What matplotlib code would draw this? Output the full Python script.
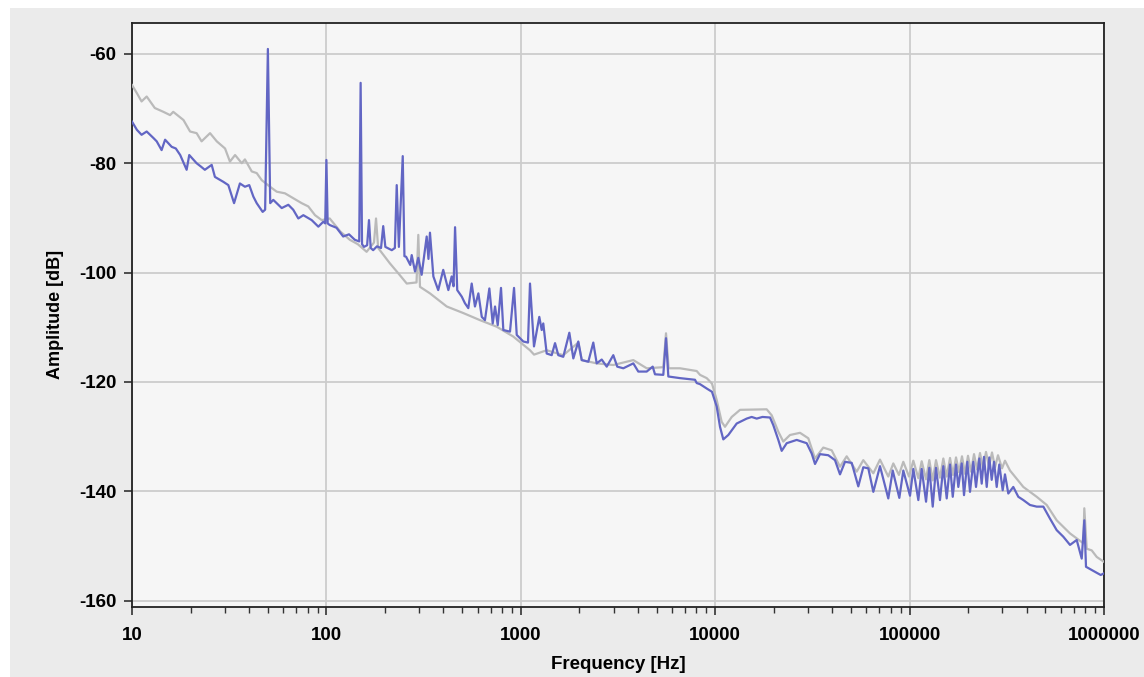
import matplotlib
matplotlib.use("Agg")
from matplotlib import pyplot as plt
from matplotlib.patches import Rectangle
from matplotlib.ticker import FixedLocator, LogLocator, NullFormatter

# spectrum, channel A (blue) : frequency [Hz], amplitude [dB]
freq_a = [10, 10.6, 11.2, 11.9, 12.9, 13.4, 14.2, 14.8, 16.0, 16.8, 17.7, 19.1, 19.7,
          21.5, 22.6, 23.7, 25.7, 26.7, 29.5, 31.3, 33.5, 35.9, 38.1, 40.1, 42.1, 43.8,
          47.0, 48.4, 50.0, 51.4, 53.3, 58.9, 63.7, 67.5, 71.7, 76.1, 84.0, 90.9, 96.4,
          98.6, 100, 101.5, 104, 112.7, 122, 130.7, 140, 147.5, 150, 152.5, 156, 162,
          165.6, 169, 174, 182, 191, 196, 201, 217, 225, 230, 236, 247, 252, 257, 270,
          274.7, 285.6, 297, 309, 328, 335, 341, 355, 376, 399, 424, 441, 451, 459, 471,
          497, 516, 537, 559, 581, 605, 630, 654, 689, 717, 737, 761, 791, 813, 880, 923,
          953, 1030, 1089, 1115, 1169, 1245, 1281, 1305, 1359, 1442, 1500, 1559, 1654,
          1777, 1863, 1976, 2058, 2225, 2360, 2457, 2608, 2767, 2991, 3135, 3368, 3791,
          4022, 4443, 4770, 4901, 5408, 5584, 5740, 6592, 7872, 8033, 8353, 9045, 9627,
          10180, 10586, 11007, 11680, 12900, 14520, 15400, 16350, 17500, 19140, 19900,
          21120, 21980, 23330, 26260, 29560, 31370, 32620, 34600, 38170, 41330, 43850,
          46530, 50380, 54460, 57780, 61330, 65070, 70420, 77690, 81880, 88540, 92820,
          100480, 104500, 110900, 115400, 121500, 126300, 131500, 136700, 143300,
          149100, 155200, 161400, 166700, 173300, 178100, 185400, 190500, 198100,
          204500, 212700, 219600, 228300, 234900, 241400, 249300, 257000, 264400,
          271800, 280600, 289300, 301200, 309500, 321900, 341500, 362400, 384600,
          416200, 450600, 487400, 527600, 571000, 617500, 668600, 723800, 768000,
          792000, 808000, 864700, 917400, 961700, 1000000]
amp_a = [-72.4, -73.9, -74.8, -74.2, -75.4, -76.0, -77.6, -75.7, -77.0, -77.3, -78.5, -81.2, -78.5,
         -80.0, -80.6, -81.2, -80.3, -82.5, -83.4, -84.0, -87.3, -83.7, -84.3, -84.0, -86.1, -87.3,
         -88.9, -88.5, -59.1, -87.3, -86.7, -88.2, -87.6, -88.5, -90.1, -89.5, -90.4, -91.6, -90.7,
         -91.0, -79.4, -91.0, -91.3, -91.8, -93.4, -93.0, -94.0, -94.3, -65.3, -94.8, -95.3, -95.0,
         -90.4, -95.5, -95.9, -95.2, -95.5, -91.5, -95.3, -95.9, -95.5, -84.0, -95.3, -78.7, -97.0, -97.1, -98.6,
         -96.8, -99.8, -97.3, -100.4, -93.4, -97.5, -92.7, -100.7, -103.2, -99.5, -103.2, -100.7, -102.5, -91.7, -103.2,
         -104.4, -105.6, -106.5, -102.0, -106.2, -103.8, -108.1, -108.7, -102.9, -109.3, -106.2, -109.6, -102.8, -110.5, -110.8, -102.8,
         -111.4, -112.6, -112.8, -102.0, -113.5, -108.1, -110.5, -109.3, -114.8, -115.1, -112.9, -115.1, -115.4,
         -111.0, -115.7, -112.6, -116.0, -116.3, -112.8, -116.6, -115.9, -117.2, -115.1, -117.2, -117.5, -116.6,
         -118.1, -118.1, -117.2, -118.6, -118.7, -112.0, -119.0, -119.3, -119.6, -120.2, -120.4, -121.2, -121.8,
         -124.5, -128.2, -130.5, -129.7, -127.6, -126.7, -126.4, -126.7, -126.4, -126.5, -127.9,
         -130.6, -132.6, -131.2, -130.6, -131.2, -133.1, -135.0, -133.2, -133.4, -134.3, -136.9,
         -134.6, -134.8, -139.1, -135.6, -135.8, -140.1, -135.4, -141.3, -136.2, -141.2, -136.2,
         -140.8, -135.9, -141.6, -135.9, -141.9, -135.7, -142.8, -135.7, -141.6,
         -135.4, -141.3, -135.1, -141.0, -135.1, -139.2, -134.9, -140.7, -134.6,
         -140.1, -134.6, -139.2, -134.0, -138.6, -133.7, -139.2, -133.8, -137.9,
         -134.6, -139.2, -135.1, -139.8, -136.9, -140.4, -139.2, -141.0, -141.6,
         -142.5, -142.8, -142.8, -145.0, -147.1, -148.3, -149.8, -148.9, -152.3,
         -145.3, -153.8, -154.4, -154.9, -155.3, -155.0]

# spectrum, channel B (gray)
freq_b = [10, 10.6, 11.2, 11.9, 13.1, 14.5, 15.7, 16.3, 18.4, 19.9, 21.5, 22.8, 25.2, 27.3,
          30.1, 31.9, 33.9, 36.7, 38.1, 41.3, 43.8, 46.5, 51.3, 55.5, 61.2, 67.5, 74.6, 80.7,
          87.4, 94.6, 104, 118, 132, 145, 161, 175.7, 180, 184.6, 212, 234, 259, 290.8, 297,
          303, 341, 416, 506, 617, 752, 915, 1115, 1170, 1359, 1654, 1976, 2058, 2457, 2991,
          3791, 4443, 5408, 5584, 5760, 6592, 7716, 8033, 8353, 9045, 9627, 10180, 10800,
          11230, 12160, 13420, 18400, 19530, 21120, 22400, 24250, 27310, 30130, 32620,
          35980, 39750, 43850, 47470, 53450, 57780, 65070, 70420, 77690, 82450, 88130,
          92820, 99290, 104500, 110900, 115400, 121500, 126300, 131500, 136700, 143300,
          149100, 155200, 161400, 167200, 173300, 179600, 186000, 192800, 199700, 206900,
          214500, 222200, 230200, 238600, 247200, 256100, 265400, 275000, 284900, 298800,
          309500, 328500, 384600, 450600, 507400, 571000, 668600, 782600, 792000, 814700,
          864700, 917400, 1000000]
amp_b = [-65.7, -67.2, -68.7, -67.8, -69.9, -70.6, -71.2, -70.6, -72.1, -74.2, -74.5, -76.0, -74.5, -76.0,
         -77.3, -79.7, -78.5, -80.0, -79.3, -81.5, -81.8, -83.1, -84.3, -85.2, -85.5, -86.4, -87.3, -87.9,
         -89.5, -90.4, -90.1, -92.5, -94.0, -94.8, -96.2, -94.5, -90.1, -95.5, -98.3, -100.1, -102.0, -101.8, -93.1,
         -102.6, -103.8, -106.2, -107.4, -108.7, -109.9, -111.7, -114.2, -115.0, -114.2, -115.1, -112.8, -116.0, -116.6, -116.9,
         -116.0, -117.5, -117.3, -111.1, -117.5, -117.5, -117.9, -118.0, -118.7, -119.3, -120.3, -123.3, -127.3,
         -128.2, -126.4, -125.1, -125.0, -126.1, -129.1, -130.9, -129.7, -129.3, -130.3, -134.0,
         -132.0, -132.5, -135.5, -133.6, -136.4, -134.3, -136.7, -134.2, -137.3, -134.9, -137.0,
         -134.6, -137.3, -134.4, -137.6, -134.5, -137.8, -134.3, -138.0, -134.3, -137.5,
         -134.0, -137.3, -133.9, -137.0, -133.8, -136.5, -133.6, -136.8, -133.5, -136.4,
         -133.2, -136.0, -133.0, -135.8, -132.8, -135.5, -132.9, -135.6, -133.4, -135.8,
         -134.4, -136.2, -139.2, -141.0, -142.5, -145.3, -147.7, -149.5, -143.1, -150.5,
         -150.8, -152.0, -152.9]

x_ticks = [10, 100, 1000, 10000, 100000, 1000000]
x_labels = ["10", "100", "1000", "10000", "100000", "1000000"]
y_ticks = [-60, -80, -100, -120, -140, -160]
y_labels = ["-60", "-80", "-100", "-120", "-140", "-160"]

plt.rcParams['font.family'] = ['Liberation Sans', 'DejaVu Sans']
plt.rcParams['font.weight'] = 'bold'

fig = plt.figure(figsize=(11.44, 6.77), dpi=100, facecolor='white')
fig.add_artist(Rectangle((10 / 1144, 0), 1, 1 - 8 / 677, transform=fig.transFigure,
                         facecolor='#ebebeb', edgecolor='none', zorder=-10))

ax = fig.add_axes([132 / 1144, 1 - 606.7 / 677, 972 / 1144, 584 / 677])
ax.set_facecolor('#f6f6f6')

ax.plot(freq_b, amp_b, color='#bababa', lw=1.6, zorder=3)
ax.plot(freq_a, amp_a, color='#6266c4', lw=1.6, zorder=4)

ax.set_xscale('log')
ax.set_xlim(10, 1000000)
ax.set_ylim(-161.1, -54.3)

ax.xaxis.set_major_locator(FixedLocator(x_ticks))
ax.set_xticklabels(x_labels)
ax.xaxis.set_minor_locator(LogLocator(base=10, subs=range(2, 10), numticks=20))
ax.xaxis.set_minor_formatter(NullFormatter())
ax.set_yticks(y_ticks)
ax.set_yticklabels(y_labels)

ax.grid(True, which='major', color='#cccccc', lw=1.3, zorder=1)
ax.set_axisbelow(True)

ax.tick_params(axis='both', which='major', direction='out', length=6, width=1.2,
               color='#333333', labelsize=13.5, pad=5)
ax.tick_params(axis='x', which='major', pad=8.5)
ax.tick_params(axis='x', which='minor', direction='out', length=4, width=1.0, color='#333333')
for s in ax.spines.values():
    s.set_color('#222222')
    s.set_linewidth(1.3)

ax.set_xlabel('Frequency [Hz]', fontsize=13.5, fontweight='bold', labelpad=9)
ax.set_ylabel('Amplitude [dB]', fontsize=13, fontweight='bold', labelpad=11)

fig.savefig('out.png', dpi=100, facecolor=fig.get_facecolor())
